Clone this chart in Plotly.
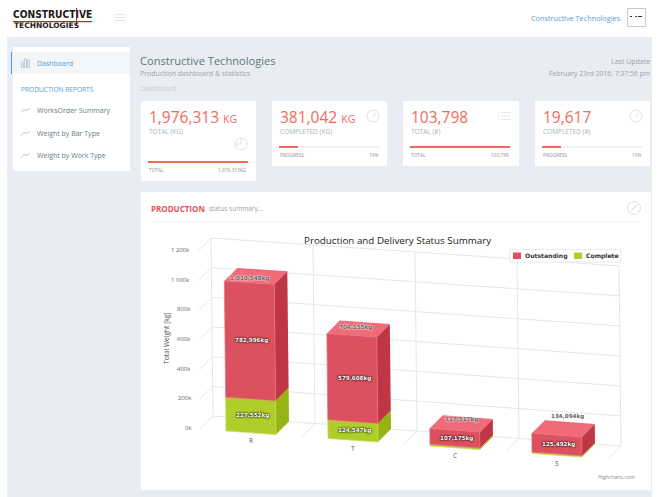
import plotly.graph_objects as go

categories = ["R", "T", "C", "S"]
outstanding = [782996, 579608, 107175, 125492]
complete = [227552, 124547, 10342, 8602]
value_ticks = [0, 200000, 400000, 600000, 800000, 1000000, 1200000]
tick_labels = ["0k", "200k", "400k", "600k", "800k", "1 000k", "1 200k"]
series_names = ["Outstanding", "Complete"]

W, H = 657, 497
BAR_HALF = 0.245
OS = "Open Sans"
RED, GREEN = "#DC5160", "#B0CE2A"
CORAL, BLUE = "#F36A5A", "#5B9BD1"
GREY = "#9AA3AC"


def fx(x):
    return x / W


def fy(y):
    return 1 - y / H


shapes, annos = [], []


def rect(x0, y0, x1, y1, fill, line=None, w=1, layer="below"):
    shapes.append(dict(type="rect", xref="paper", yref="paper", x0=fx(x0), x1=fx(x1), y0=fy(y0), y1=fy(y1),
                       layer=layer, fillcolor=fill, line=dict(color=line or fill, width=w if line else 0)))


def circle(cx, cy, r, color, w=1):
    shapes.append(dict(type="circle", xref="paper", yref="paper", x0=fx(cx - r), x1=fx(cx + r),
                       y0=fy(cy - r), y1=fy(cy + r), layer="below", line=dict(color=color, width=w)))


def seg(points, color, w=1):
    d = "M" + " L".join(f"{fx(a):.5f},{fy(b):.5f}" for a, b in points)
    shapes.append(dict(type="path", xref="paper", yref="paper", path=d, layer="below", line=dict(color=color, width=w)))


def text(x, y, s, size, color, anchor="left", family=OS, weight=None, angle=0):
    if anchor == "left":
        x -= 0.7
    annos.append(dict(x=fx(x), y=fy(y), xref="paper", yref="paper", text=s, showarrow=False, xanchor=anchor,
                      yanchor="middle", textangle=angle, borderpad=0,
                      font=dict(size=size, color=color, family=family, weight=weight or 400)))


# page background
rect(7, 37, 652, 497, "#E9ECF3")
# header
text(13, 14.5, "CONSTRUCTIVE", 10.2, "#1a1a1a", family="DejaVu Sans Condensed", weight=700)
rect(13, 21, 92, 22.2, "#D8202A")
rect(76, 8, 77, 26, "#D8202A")
text(14, 25.5, "TECHNOLOGIES", 7.5, "#222222", family="DejaVu Sans", weight=700)
for yy in (14.5, 17.5, 20.5):
    rect(115, yy - 0.5, 125, yy + 0.5, "#DDE5EC")
text(622, 18.5, "Constructive Technologies", 7.3, BLUE, "right")
rect(627.5, 8.5, 645.5, 26.5, "#FFFFFF", "#C5C8CC", 1)
rect(630, 16, 632, 17, "#333333")
rect(635, 16, 637, 17, "#A03030")
rect(638, 16, 642, 17, "#333333")

# sidebar
rect(13, 47, 130, 171, "#FFFFFF")
rect(13, 52, 130, 74, "#F2F6F9")
rect(11, 52, 12, 74, BLUE)
for bx, top in ((22, 62), (25, 59), (28, 60)):
    rect(bx - 0.6, top, bx + 1.4, 67.5, "#F2F6F9", "#9DBAD3", 0.7)
text(36.5, 63.5, "Dashboard", 7, BLUE)
text(20.5, 89.5, "PRODUCTION REPORTS", 6.6, BLUE)
for yy, label in ((110.5, "WorksOrder Summary"), (133.5, "Weight by Bar Type"), (155.5, "Weight by Work Type")):
    seg([(21, yy + 2), (24, yy - 1), (26, yy), (30, yy - 2)], "#AAB4BC", 0.8)
    text(36.5, yy, label, 7, "#6B7A85")

# page heading
text(140, 60, "Constructive Technologies", 11.1, "#5F7482")
text(140, 73.5, "Production dashboard & statistics", 7, "#9AA5AE")
text(140, 88.5, "Dashboard", 7, "#C8CDD4")
text(651, 61.5, "Last Update", 7, GREY, "right")
text(651, 73.5, "February 23rd 2016, 7:37:56 pm", 6.8, GREY, "right")

# KPI cards
cards = [
    (141, 256, 181, "1,976,313", True, "TOTAL (KG)", 1.0, "TOTAL", "1,976,313KG"),
    (272, 387, 166, "381,042", True, "COMPLETED (KG)", 0.19, "PROGRESS", "19%"),
    (403, 519, 166, "103,798", False, "TOTAL (#)", 1.0, "TOTAL", "103,798"),
    (535, 650, 166, "19,617", False, "COMPLETED (#)", 0.19, "PROGRESS", "19%"),
]
for x0, x1, bottom, num, kg, label, frac, foot_l, foot_r in cards:
    rect(x0, 101, x1, bottom, "#FFFFFF")
    num_txt = num + (" <span style='font-size:10.5px'>KG</span>" if kg else "")
    text(x0 + 7.5, 116.5, num_txt, 15.5, CORAL)
    text(x0 + 7.5, 131.5, label, 6.5, "#AAB2B9")
    by = bottom - 20
    rect(x0 + 7, by, x0 + 107, by + 2, "#F1F2F4")
    rect(x0 + 7, by, x0 + 7 + 100 * frac, by + 2, CORAL)
    text(x0 + 7.5, by + 9, foot_l, 4.8, "#8B949C")
    text(x0 + 107, by + 9, foot_r, 4.8, "#8B949C", "right")
# card icons
circle(241, 144, 6, "#DCE2E8")
seg([(241, 138), (241, 144), (235, 144)], "#DCE2E8")
circle(373, 116, 6, "#DCE2E8")
seg([(373, 117), (376, 113)], "#DCE2E8")
for yy in (112.5, 116, 119.5):
    seg([(498, yy), (499.5, yy)], "#DCE2E8")
    seg([(501, yy), (511, yy)], "#E6EAEE")
circle(636, 116, 6, "#DCE2E8")
seg([(636, 117), (639, 113)], "#DCE2E8")

# chart panel
rect(141, 192, 651, 490, "#FFFFFF")
rect(151, 221, 640, 222, "#F3F4F6")
text(151, 208, "PRODUCTION", 8, "#E7505A", weight=700)
text(209, 208.5, "status summary...", 6.5, "#9AA3AC")
circle(634, 208, 6.5, "#DDE0E4")
seg([(631.5, 210.5), (636.5, 205.5)], "#B8BEC4", 0.8)
text(397, 241, "Production and Delivery Status Summary", 9.8, "#222222", "center")
text(166, 338, "Total Weight [kg]", 6.6, "#555555", "center", angle=-90)
text(636, 477, "Highcharts.com", 5, "#888888", "right")

# legend
rect(509.5, 249.5, 621, 262, "#FFFFFF", "#E2E4E7", 0.8, layer="above")
for sx, col, tx, name in ((513, RED, 525, series_names[0]), (574, GREEN, 585.5, series_names[1])):
    rect(sx, 252.5, sx + 8, 259, col, layer="above")
    text(tx, 256, name, 6.1, "#333333", family="DejaVu Sans", weight=700)

# Oblique view of (category position, depth 0..1, weight) on ordinary numeric axes.
PX_PER_CAT = 102.0
KG_PER_PX = 1200000 / 178.0


def view(cat, depth, val):
    X = cat + depth * 13 / PX_PER_CAT - (val / 1200000) * 2 / PX_PER_CAT
    Y = val * (1 + 0.003 * cat) + depth * 13 * KG_PER_PX - cat * 7.5 * KG_PER_PX
    return X, Y


def poly(corners):
    xs, ys = [], []
    for c in corners + [corners[0]]:
        a, b = view(*c)
        xs.append(a)
        ys.append(b)
    return xs + [None], ys + [None]


def face_trace(polys, color, name, edge=None):
    xs, ys = [], []
    for p in polys:
        a, b = poly(p)
        xs += a
        ys += b
    return go.Scatter(x=xs, y=ys, mode="lines", fill="toself", fillcolor=color, name=name, hoverinfo="skip",
                      line=dict(color=edge or color, width=0.7 if edge else 0), showlegend=False)


def bar_faces(centers, base, height):
    front, side, top = [], [], []
    for c, b, h in zip(centers, base, height):
        l, r, t = c - BAR_HALF, c + BAR_HALF, b + h
        front.append([(l, 0, b), (r, 0, b), (r, 0, t), (l, 0, t)])
        side.append([(r, 0, b), (r, 1, b), (r, 1, t), (r, 0, t)])
        top.append([(l, 0, t), (r, 0, t), (r, 1, t), (l, 1, t)])
    return front, side, top


centers = [n + 0.5 for n in range(len(categories))]
fig = go.Figure()

# grid: back wall, left wall, floor
GRID = "#E6E6E6"
gx, gy = [], []


def gridline(a, b):
    for c in (a, b):
        p, q = view(*c)
        gx.append(p)
        gy.append(q)
    gx.append(None)
    gy.append(None)


top_val = value_ticks[-1]
for v in value_ticks:
    gridline((0, 1, v), (len(categories), 1, v))
    gridline((0, 0, v), (0, 1, v))
for n in range(len(categories) + 1):
    gridline((n, 1, 0), (n, 1, top_val))
    gridline((n, 0, 0), (n, 1, 0))
fig.add_trace(go.Scatter(x=gx, y=gy, mode="lines", line=dict(color=GRID, width=1), hoverinfo="skip", showlegend=False))

f, s, t = bar_faces(centers, [0] * 4, complete)
fig.add_trace(face_trace(s, "#98B412", series_names[1]))
fig.add_trace(face_trace(t, "#C0DC40", series_names[1]))
fig.add_trace(face_trace(f, GREEN, series_names[1], edge="#C4DE50"))
f, s, t = bar_faces(centers, complete, outstanding)
fig.add_trace(face_trace(s, "#BF3646", series_names[0]))
fig.add_trace(face_trace(t, "#F06A77", series_names[0]))
fig.add_trace(face_trace(f, RED, series_names[0], edge="#E8707C"))


def data_label(pos, s, size, color, family=OS, weight=400, shadow=None, xanchor="center", xshift=0, yshift=0):
    a, b = view(*pos)
    font = dict(size=size, color=color, family=family, weight=weight)
    if shadow:
        font["shadow"] = shadow
    annos.append(dict(x=a, y=b, xref="x", yref="y", text=s, showarrow=False, xanchor=xanchor, yanchor="middle",
                      xshift=xshift, yshift=yshift, borderpad=0, font=font))


for c, name in zip(centers, categories):
    data_label((c, 0, 0), name, 6.5, "#555555", yshift=-8)
for v, lab in zip(value_ticks, tick_labels):
    data_label((0, 0, v), lab, 6, "#666666", xanchor="right", xshift=-7, yshift=1)
DARK = "0 0 2px #000, 0 0 2px #000"
LIGHT = "0 0 2px #fff, 0 0 2px #fff"
for c, b, h in zip(centers, complete, outstanding):
    data_label((c, 0, b + h / 2), f"{h:,}kg", 5.6, "#FFFFFF", "DejaVu Sans", 700, DARK, xshift=2)
    if b > 100000:
        data_label((c, 0, b / 2), f"{b:,}kg", 5.6, "#FFFFFF", "DejaVu Sans", 700, DARK, xshift=2)
for c, b, h, dep, up in zip(centers, complete, outstanding, (0, 0.25, 0.55, 0.85), (4, 4.5, 4, 8)):
    data_label((c, dep, b + h), f"{b + h:,}kg", 5.6, "#666666", "DejaVu Sans", 700, LIGHT, yshift=up)

fig.update_layout(
    width=W, height=H, margin=dict(l=0, r=0, t=0, b=0), paper_bgcolor="#FFFFFF", plot_bgcolor="rgba(0,0,0,0)",
    showlegend=False, shapes=shapes, annotations=annos,
    xaxis=dict(visible=False, range=[-200 / PX_PER_CAT, (W - 200) / PX_PER_CAT], fixedrange=True),
    yaxis=dict(visible=False, range=[(429 - H) * KG_PER_PX, 429 * KG_PER_PX], fixedrange=True),
)
fig.write_html("out.html", config=dict(displayModeBar=False, responsive=False),
               post_script="document.body.style.margin='0';document.body.style.overflow='hidden';")
